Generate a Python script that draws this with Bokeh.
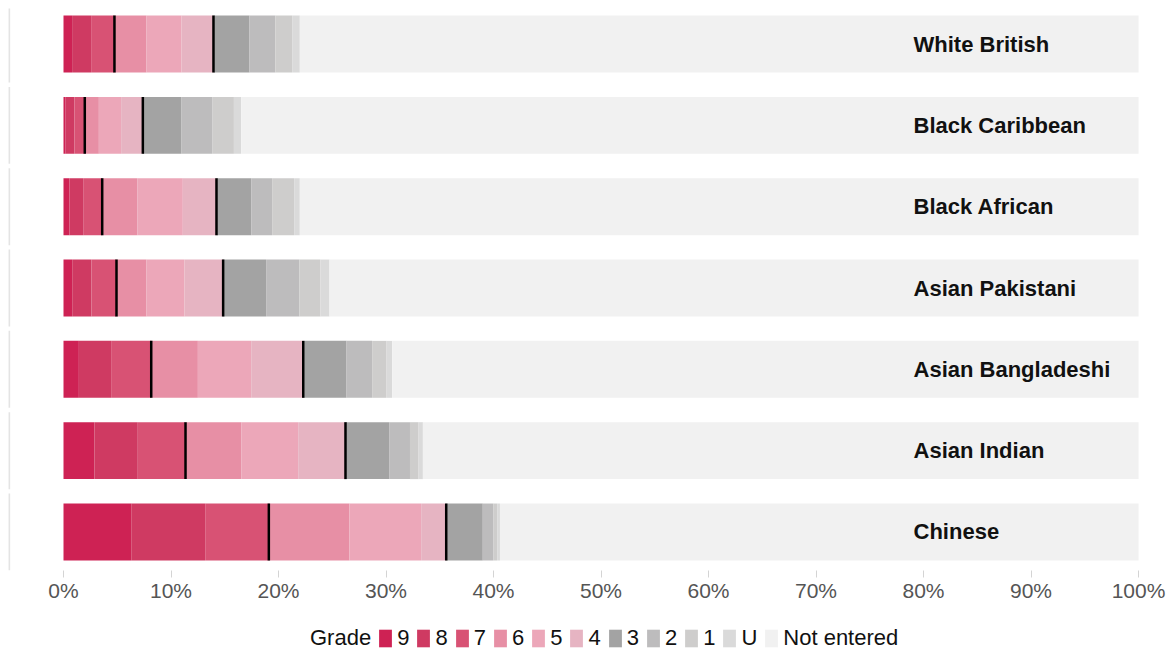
from bokeh.plotting import figure
from bokeh.layouts import column
from bokeh.models import Range1d, FixedTicker, PrintfTickFormatter, Legend, LegendItem, ColumnDataSource
from bokeh.core.properties import value
from bokeh.embed import file_html
from bokeh.resources import INLINE

groups = ["White British", "Black Caribbean", "Black African", "Asian Pakistani",
          "Asian Bangladeshi", "Asian Indian", "Chinese"]
grades = ["9", "8", "7", "6", "5", "4", "3", "2", "1", "U", "Not entered"]

g9 = [0.80, 0.20, 0.56, 0.81, 1.43, 2.88, 6.30]
g8 = [1.77, 0.82, 1.27, 1.79, 3.00, 4.03, 6.88]
g7 = [2.17, 0.96, 1.77, 2.33, 3.73, 4.44, 5.92]
g6 = [2.98, 1.31, 3.26, 2.79, 4.34, 5.21, 7.50]
g5 = [3.26, 2.07, 4.24, 3.54, 4.96, 5.27, 6.67]
g4 = [2.97, 2.02, 3.13, 3.59, 4.84, 4.40, 2.33]
g3 = [3.35, 3.60, 3.23, 4.00, 4.03, 4.10, 3.40]
g2 = [2.40, 2.85, 1.95, 3.10, 2.38, 1.90, 0.97]
g1 = [1.57, 2.02, 2.05, 1.95, 1.34, 0.80, 0.37]
gU = [0.71, 0.68, 0.52, 0.84, 0.52, 0.40, 0.26]

colors = ["#ce2254", "#cf3a62", "#d85274", "#e78fa5", "#eca7b9", "#e6b4c2",
          "#a3a3a3", "#bdbcbd", "#cecdcc", "#dadada", "#f1f1f1"]

series = [g9, g8, g7, g6, g5, g4, g3, g2, g1, gU]
n = len(groups)
ne = [100 - sum(s[i] for s in series) for i in range(n)]
ypos = [n - 1 - i for i in range(n)]

data = {"y": ypos, "group": groups}
for gname, s in zip(grades, series + [ne]):
    data[gname] = s
source = ColumnDataSource(data)

cum7 = [g9[i] + g8[i] + g7[i] for i in range(n)]
cum4 = [cum7[i] + g6[i] + g5[i] + g4[i] for i in range(n)]

X_START, X_END = -5.116, 102.6

p = figure(frame_width=1158, frame_height=562,
           x_range=Range1d(X_START, X_END), y_range=Range1d(-0.4736, 6.437),
           output_backend="svg", toolbar_location=None, y_axis_location=None,
           min_border_left=8, min_border_right=8, min_border_top=8, min_border_bottom=40,
           outline_line_color=None, background_fill_color="white", border_fill_color="white")
p.xgrid.visible = False
p.ygrid.visible = False

# panel separators on the left
p.segment(x0=[X_START + 0.06] * n, x1=[X_START + 0.06] * n,
          y0=[y - 0.473 for y in ypos], y1=[y + 0.473 for y in ypos],
          line_color="#e4e4e4", line_width=2)

rs = p.hbar_stack(grades, y="y", height=0.7, color=colors, source=source, line_color=None)

p.rect(x=cum7, y=ypos, width=2.5, width_units="screen", height=0.7,
       fill_color="black", line_color=None)
p.rect(x=cum4, y=ypos, width=2.5, width_units="screen", height=0.7,
       fill_color="black", line_color=None)

p.text(x=[79.07] * n, y=ypos, text=groups, text_font=value("Liberation Sans"),
       text_font_style="bold", text_font_size="22px", text_baseline="middle",
       text_align="left", text_color="#111111")

ax = p.xaxis[0]
ax.ticker = FixedTicker(ticks=list(range(0, 101, 10)))
ax.formatter = PrintfTickFormatter(format="%d%%")
ax.axis_line_color = None
ax.major_tick_line_color = "#d4d4d4"
ax.major_tick_out = 7
ax.major_tick_in = 0
ax.minor_tick_line_color = None
ax.major_label_text_font = "Liberation Sans"
ax.major_label_text_font_size = "21px"
ax.major_label_text_color = "#555555"
ax.major_label_standoff = 1

# legend in its own strip below the chart (swatch renderers hold one point off-range)
lg = figure(width=1174, height=42, x_range=Range1d(0, 1), y_range=Range1d(0, 1),
            output_backend="svg", toolbar_location=None,
            x_axis_location=None, y_axis_location=None, min_border=0,
            outline_line_color=None, background_fill_color="white", border_fill_color="white")
lg.xgrid.visible = False
lg.ygrid.visible = False
dummy = lg.vbar(x=[-5], top=[-5], width=0.1, fill_alpha=0, line_alpha=0)
items = [LegendItem(label="Grade", renderers=[dummy])]
for g, c in zip(grades, colors):
    r = lg.vbar(x=[-5], top=[-5], width=0.1, fill_color=c, line_color=None)
    items.append(LegendItem(label=g, renderers=[r]))
legend = Legend(items=items, orientation="horizontal", location=(282, 1),
                glyph_width=16, glyph_height=22, label_standoff=4, spacing=6,
                label_width=0, padding=0, margin=0, border_line_color=None,
                background_fill_alpha=0,
                label_text_font="Liberation Sans", label_text_font_size="22px",
                label_text_color="#111111", label_height=22)
lg.add_layout(legend, "center")

open("out.html", "w").write(file_html(column(p, lg, spacing=0), INLINE))
